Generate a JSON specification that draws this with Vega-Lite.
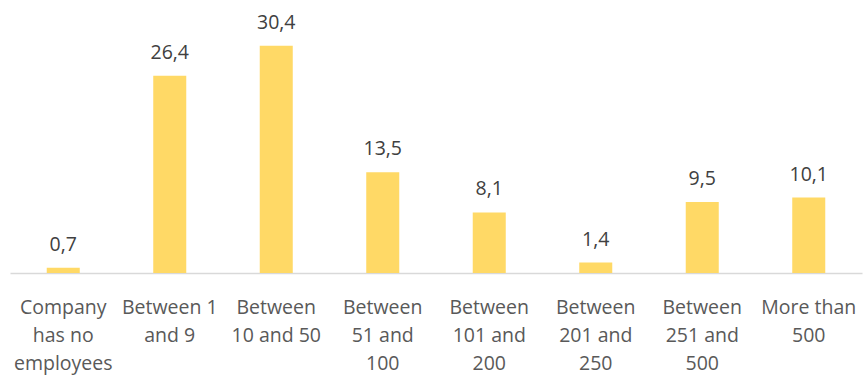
{
  "$schema": "https://vega.github.io/schema/vega-lite/v6.json",
  "width": 852,
  "height": 263,
  "autosize": "none",
  "padding": {"left": 10, "top": 10, "right": 1, "bottom": 103},
  "background": "white",
  "config": {
    "view": {"stroke": null},
    "locale": {"number": {"decimal": ",", "thousands": ".", "grouping": [3], "currency": ["", " €"]}}
  },
  "data": {
    "values": [
      {"size": "Company has no employees", "pct": 0.7},
      {"size": "Between 1 and 9", "pct": 26.4},
      {"size": "Between 10 and 50", "pct": 30.4},
      {"size": "Between 51 and 100", "pct": 13.5},
      {"size": "Between 101 and 200", "pct": 8.1},
      {"size": "Between 201 and 250", "pct": 1.4},
      {"size": "Between 251 and 500", "pct": 9.5},
      {"size": "More than 500", "pct": 10.1}
    ]
  },
  "encoding": {
    "x": {
      "field": "size",
      "type": "nominal",
      "sort": null,
      "scale": {"paddingInner": 0.69, "paddingOuter": 0.345},
      "axis": {
        "title": null,
        "labelAngle": 0,
        "ticks": false,
        "domainColor": "#D9D9D9",
        "domainWidth": 1.5,
        "labelFont": "Open Sans",
        "labelFontSize": 19.5,
        "labelColor": "#595959",
        "labelPadding": 25,
        "labelLineHeight": 28,
        "labelBaseline": "top",
        "labelLimit": 200,
        "labelExpr": "{'Company has no employees':['Company','has no','employees'],'Between 1 and 9':['Between 1','and 9'],'Between 10 and 50':['Between','10 and 50'],'Between 51 and 100':['Between','51 and','100'],'Between 101 and 200':['Between','101 and','200'],'Between 201 and 250':['Between','201 and','250'],'Between 251 and 500':['Between','251 and','500'],'More than 500':['More than','500']}[datum.value]"
      }
    },
    "y": {
      "field": "pct",
      "type": "quantitative",
      "scale": {"domain": [0, 35.2], "nice": false},
      "axis": null
    }
  },
  "layer": [
    {"mark": {"type": "bar", "color": "#FFD966"}},
    {
      "mark": {"type": "text", "baseline": "bottom", "dy": -13, "font": "Open Sans", "fontSize": 19.5, "color": "#404040"},
      "encoding": {"text": {"field": "pct", "type": "quantitative", "format": ".1f"}}
    }
  ]
}
